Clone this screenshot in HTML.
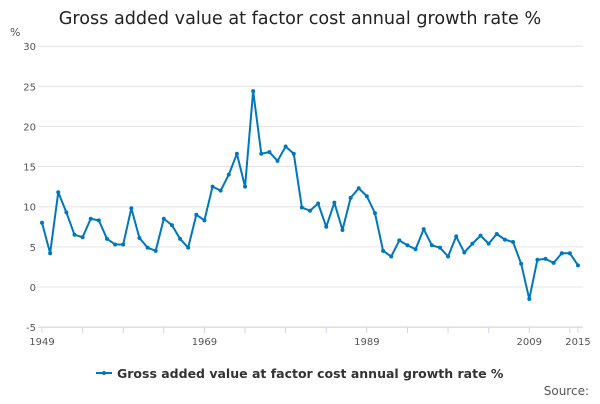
<!DOCTYPE html>
<html><head><meta charset="utf-8"><style>
body{margin:0;background:#fff;font-family:"DejaVu Sans",sans-serif}
svg text{font-family:"DejaVu Sans",sans-serif}
</style></head><body>
<svg id="c" width="600" height="400">
<text x="300" y="24" text-anchor="middle" font-size="17.6" fill="#222">Gross added value at factor cost annual growth rate %</text>
<text x="10" y="36" font-size="11" fill="#555">%</text>
<g id="grid"></g><g id="series"></g>
<g>
<line x1="96" y1="373" x2="112" y2="373" stroke="#0077bb" stroke-width="2"/>
<circle cx="104" cy="373" r="2" fill="#0077bb"/>
<text x="117" y="378" font-size="12.5" font-weight="bold" fill="#333">Gross added value at factor cost annual growth rate %</text>
</g>
<text x="589" y="395" text-anchor="end" font-size="12" fill="#555">Source:</text>
</svg>
<script>
const years=[];for(let y=1949;y<=2015;y++)years.push(y);
const values=[8.0,4.2,11.8,9.3,6.5,6.2,8.5,8.3,6.0,5.3,5.3,9.8,6.1,4.9,4.5,8.5,7.7,6.0,4.9,9.0,8.3,12.5,12.0,14.0,16.6,12.5,24.4,16.6,16.8,15.7,17.5,16.6,9.9,9.5,10.4,7.5,10.5,7.1,11.1,12.3,11.3,9.2,4.5,3.8,5.8,5.2,4.7,7.2,5.2,4.9,3.8,6.3,4.3,5.4,6.4,5.4,6.6,5.9,5.6,2.9,-1.5,3.4,3.5,3.0,4.2,4.2,2.7];
const yTicks=[-5,0,5,10,15,20,25,30];
const xLabels=[1949,1969,1989,2009,2015];
const NS="http://www.w3.org/2000/svg";
const X=y=>42+(y-1949)*(536/66);
const Y=v=>287-v*8.03;
function mk(t,a,p){const e=document.createElementNS(NS,t);for(const k in a)e.setAttribute(k,a[k]);p.appendChild(e);return e;}
const g=document.getElementById('grid');
yTicks.forEach(t=>{
 const l=mk('line',{x1:38,x2:583,y1:Y(t),y2:Y(t),stroke:t===-5?'#ccc':'#e4e4e4','stroke-width':1},g);
 
 
 const tx=mk('text',{x:36,y:Y(t)+4,'text-anchor':'end','font-size':10,fill:'#555'},g);tx.textContent=t;
 
 
});
for(let y=1949;y<=2015;y+=5){mk('line',{x1:X(y),x2:X(y),y1:327,y2:333,stroke:'#ccd6eb'},g);}
mk('line',{x1:X(2015),x2:X(2015),y1:327,y2:333,stroke:'#ccd6eb'},g);
xLabels.forEach(y=>{
 const tx=mk('text',{x:X(y),y:345,'text-anchor':'middle','font-size':10,fill:'#555'},g);tx.textContent=y;
 
 
});
const s=document.getElementById('series');
const p=mk('polyline',{points:values.map((v,i)=>X(years[i])+','+Y(v)).join(' '),fill:'none',stroke:'#0077bb','stroke-width':2,'stroke-linejoin':'round'},s);


values.forEach((v,i)=>{
 const c=mk('circle',{cx:X(years[i]),cy:Y(v),r:2,fill:'#0077bb'},s);
 
 
});
</script>
</body></html>
